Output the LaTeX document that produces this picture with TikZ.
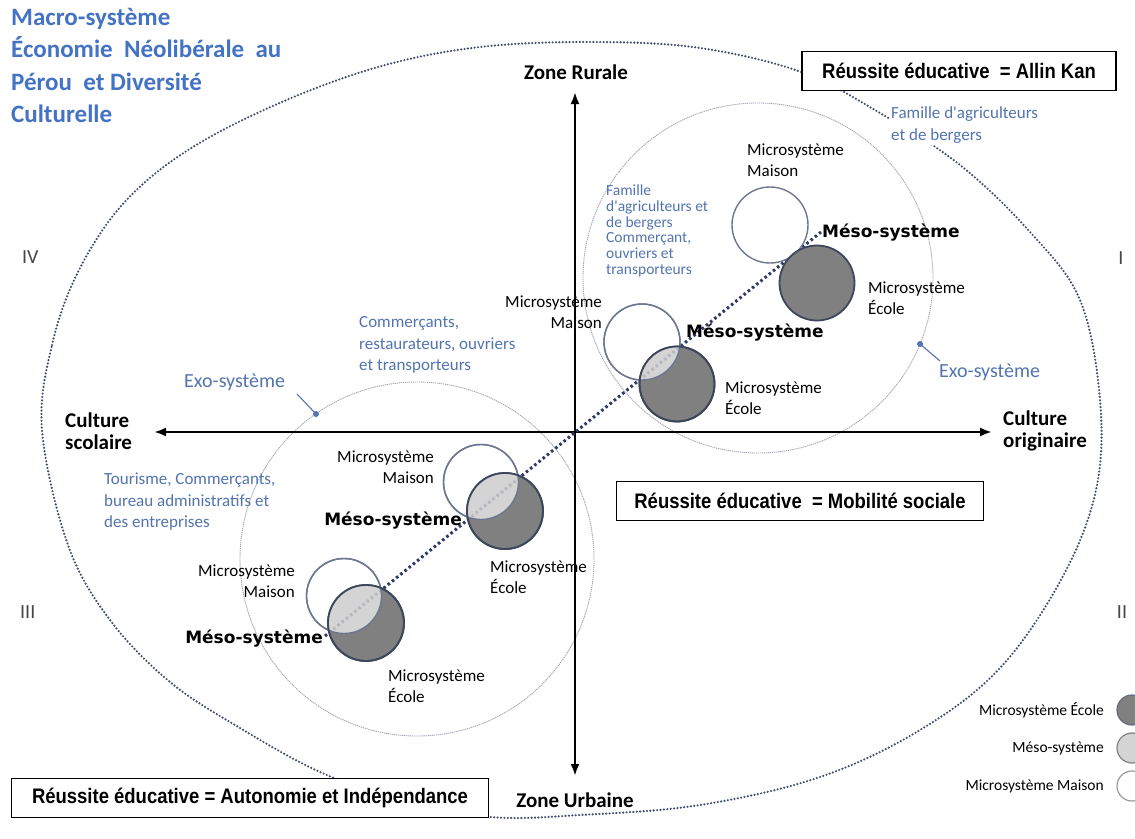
\documentclass[tikz,border=0pt]{standalone}
\usepackage{fontspec}
\setmainfont{Carlito}
\newfontfamily\boxfont{Liberation Sans}[FakeStretch=0.88]
\newfontfamily\mesofont{DejaVu Sans}
\usetikzlibrary{arrows.meta,calc}
\definecolor{titleblue}{RGB}{68,114,196}
\definecolor{txtblue}{RGB}{84,116,176}
\definecolor{macrodot}{RGB}{66,76,108}
\definecolor{diagdot}{RGB}{48,58,104}
\definecolor{exogray}{RGB}{160,165,182}
\definecolor{darkfill}{RGB}{128,128,128}
\definecolor{lensfill}{RGB}{212,212,212}
\definecolor{rimwhite}{RGB}{110,118,145}
\definecolor{rimdark}{RGB}{62,70,92}
\definecolor{numgray}{RGB}{70,70,70}
\newcommand{\apos}{\textquotesingle}
\begin{document}
\begin{tikzpicture}[x=1pt,y=-1pt,
  lbl/.style={inner sep=0pt,font=\fontsize{17}{21.5}\selectfont},
  blu/.style={inner sep=0pt,text=txtblue,font=\fontsize{17}{21.5}\selectfont},
  blus/.style={inner sep=0pt,text=txtblue,font=\fontsize{15.5}{15.7}\selectfont},
  exolbl/.style={inner sep=0pt,text=txtblue,font=\fontsize{20}{24}\selectfont},
  meso/.style={inner sep=0pt,font=\mesofont\bfseries\fontsize{17}{20}\selectfont},
  axlbl/.style={inner sep=0pt,font=\bfseries\fontsize{21}{22}\selectfont},
  resbox/.style={draw,line width=1.3pt,fill=white,inner sep=0pt,minimum height=39pt,font=\boxfont\bfseries\fontsize{21}{24}\selectfont},
  roman/.style={inner sep=0pt,text=numgray,font=\fontsize{20}{24}\selectfont},
  leg/.style={inner sep=0pt,font=\fontsize{15.5}{18}\selectfont},
  macro/.style={draw=macrodot,line width=2.4pt,line cap=round,dash pattern=on 0pt off 3.4pt},
  exo/.style={draw=exogray,line width=0.9pt,dash pattern=on 1.2pt off 0.8pt},
  diag/.style={draw=diagdot,line width=3pt,dash pattern=on 2.6pt off 2.8pt},
  axis/.style={line width=2.3pt,-{Latex[length=12pt,width=9pt]}},
  wcirc/.style={fill=white,draw=rimwhite,line width=1.4pt},
  dcirc/.style={fill=darkfill,draw=rimdark,line width=1.8pt},
  rimw/.style={draw=rimwhite,line width=1.4pt},
  rimd/.style={draw=rimdark,line width=1.8pt},
  leader/.style={draw=txtblue,line width=1.1pt}
]
\useasboundingbox[fill=white] (0,0) rectangle (1135,838);

% ---------- exo-systems ----------
\coordinate (exoA) at (758,278);
\coordinate (exoB) at (417,559);
\draw[exo] (exoA) circle (175);
\draw[exo] (exoB) circle (177);

% ---------- macro-system ----------
\draw[macro] plot[smooth cycle, tension=0.6] coordinates {
 (42,430) (52,345) (78,272) (122,205) (185,152) (275,105) (378,67) (480,47)
 (594,42) (700,48) (801,72) (880,113) (960,165) (1030,232) (1080,300) (1100,400)
 (1096,490) (1062,578) (1000,668) (920,730) (820,777) (700,805) (580,815)
 (490,817) (400,800) (320,772) (240,728) (170,682) (110,620) (68,545)};

% ---------- axes ----------
\coordinate (O) at (575,432);
\coordinate (axT) at (575,92);
\coordinate (axB) at (575,776);
\coordinate (axL) at (154,432);
\coordinate (axR) at (992,432);
\draw[axis] (O) -- (axT);
\draw[axis] (O) -- (axB);
\draw[axis] (O) -- (axL);
\draw[axis] (O) -- (axR);

% ---------- diagonal ----------
\coordinate (dA) at (325,636);
\coordinate (dB) at (821,232);
\draw[diag] (dA) -- (dB);

% ---------- circle pairs ----------
% Q1 upper (touching)
\coordinate (m1) at (770,225);  \coordinate (e1) at (817,283);
\draw[wcirc] (m1) circle (38);
\draw[dcirc] (e1) circle (37.5);
% Q1 lower
\coordinate (m2) at (642,342);  \coordinate (e2) at (677,384);
\draw[wcirc] (m2) circle (38);
\draw[dcirc] (e2) circle (37.5);
\begin{scope}\clip (m2) circle (38); \fill[lensfill] (e2) circle (37.5);
\draw[diag,opacity=0.18] (dA) -- (dB);\end{scope}
\draw[rimw] (m2) circle (38); \draw[rimd] (e2) circle (37.5);
% Q3 upper
\coordinate (m3) at (481,482);  \coordinate (e3) at (505,511);
\draw[wcirc] (m3) circle (37.5);
\draw[dcirc] (e3) circle (38);
\begin{scope}\clip (m3) circle (37.5); \fill[lensfill] (e3) circle (38);
\draw[diag,opacity=0.18] (dA) -- (dB);\end{scope}
\draw[rimw] (m3) circle (37.5); \draw[rimd] (e3) circle (38);
% Q3 lower
\coordinate (m4) at (344,596);  \coordinate (e4) at (366,623);
\draw[wcirc] (m4) circle (37.5);
\draw[dcirc] (e4) circle (38);
\begin{scope}\clip (m4) circle (37.5); \fill[lensfill] (e4) circle (38);
\draw[diag,opacity=0.18] (dA) -- (dB);\end{scope}
\draw[rimw] (m4) circle (37.5); \draw[rimd] (e4) circle (38);

% ---------- title ----------
\node[anchor=north west,inner sep=0pt,align=left,text=titleblue,
  font=\bfseries\fontsize{25}{32.5}\selectfont] (title) at (11,8)
  {Macro-système\\Économie\ \ Néolibérale\ \ au\\Pérou\ \ et Diversité\\Culturelle};

% ---------- axis labels ----------
\node[axlbl] (zr) at (576,72) {Zone Rurale};
\node[axlbl] (zu) at (575,800) {Zone Urbaine};
\node[axlbl,anchor=west,align=left] (cs) at (65,431) {Culture\\scolaire};
\node[axlbl,anchor=west,align=left] (co) at (1003,431) {Culture\\originaire};

% ---------- roman numerals ----------
\node[roman,anchor=west] (q4) at (22,257) {IV};
\node[roman] (q1) at (1121,258) {I};
\node[roman,anchor=west] (q3) at (20,612) {III};
\node[roman] (q2) at (1122,612) {II};

% ---------- result boxes ----------
\node[resbox,minimum width=314pt] (rAK) at (959,71) {Réussite éducative\ \ = Allin Kan};
\node[resbox,minimum width=367pt] (rMS) at (800,501) {Réussite éducative\ \ = Mobilité sociale};
\node[resbox,minimum width=477pt] (rAI) at (250,798) {Réussite éducative = Autonomie et Indépendance};

% ---------- Q1 texts ----------
\node[blu,anchor=west,align=left,fill=white,inner sep=2pt] (fam1) at (889,125)
  {Famille d\apos agriculteurs\\et de bergers};
\node[blus,anchor=west,align=left] (fam2) at (606,231)
  {Famille\\d\apos agriculteurs et\\de bergers\\Commerçant,\\ouvriers et\\transporteurs};
\node[lbl,anchor=west,align=left] (mm1) at (747,160) {Microsystème\\Maison};
\node[meso,anchor=west] (ms1) at (822,233) {Méso-système};
\node[lbl,anchor=west,align=left] (me1) at (868,298) {Microsystème\\École};
\node[lbl,anchor=east,align=right] (mm2) at (602,312) {Microsystème\\Maison};
\node[meso,anchor=west] (ms2) at (686,333) {Méso-système};
\node[lbl,anchor=west,align=left] (me2) at (725,398) {Microsystème\\École};
\coordinate (dotA) at (920,344);
\node[exolbl,anchor=west] (exoAl) at (939,372) {Exo-système};
\draw[leader] (dotA) -- (940,361);
\fill[txtblue] (dotA) circle (3);

% ---------- Q3 texts ----------
\node[blu,anchor=west,align=left] (com3) at (359,345)
  {Commerçants,\\restaurateurs, ouvriers\\et transporteurs};
\node[blu,anchor=west,align=left] (tour3) at (104,502)
  {Tourisme, Commerçants,\\bureau administratifs et\\des entreprises};
\node[exolbl,anchor=west] (exoBl) at (184,382) {Exo-système};
\coordinate (dotB) at (316,414);
\draw[leader] (dotB) -- (297,394);
\fill[txtblue] (dotB) circle (3);
\node[lbl,anchor=east,align=right] (mm3) at (434,467) {Microsystème\\Maison};
\node[meso,anchor=east] (ms3) at (462,521) {Méso-système};
\node[lbl,anchor=west,align=left] (me3) at (490,577) {Microsystème\\École};
\node[lbl,anchor=east,align=right] (mm4) at (295,581) {Microsystème\\Maison};
\node[meso,anchor=east] (ms4) at (323,639) {Méso-système};
\node[lbl,anchor=west,align=left] (me4) at (388,686) {Microsystème\\École};

% ---------- legend ----------
\coordinate (lg1) at (1132,710);
\coordinate (lg2) at (1132,748);
\coordinate (lg3) at (1132,786);
\draw[fill=darkfill,draw=rimdark!80,line width=1.2pt] (lg1) circle (15);
\draw[fill=lensfill,draw=gray,line width=1.2pt] (lg2) circle (15);
\draw[fill=white,draw=gray!80,line width=1.2pt] (lg3) circle (15);
\node[leg,anchor=east] (lt1) at (1104,710) {Microsystème École};
\node[leg,anchor=east] (lt2) at (1104,748) {Méso-système};
\node[leg,anchor=east] (lt3) at (1104,786) {Microsystème Maison};
\end{tikzpicture}
\end{document}
